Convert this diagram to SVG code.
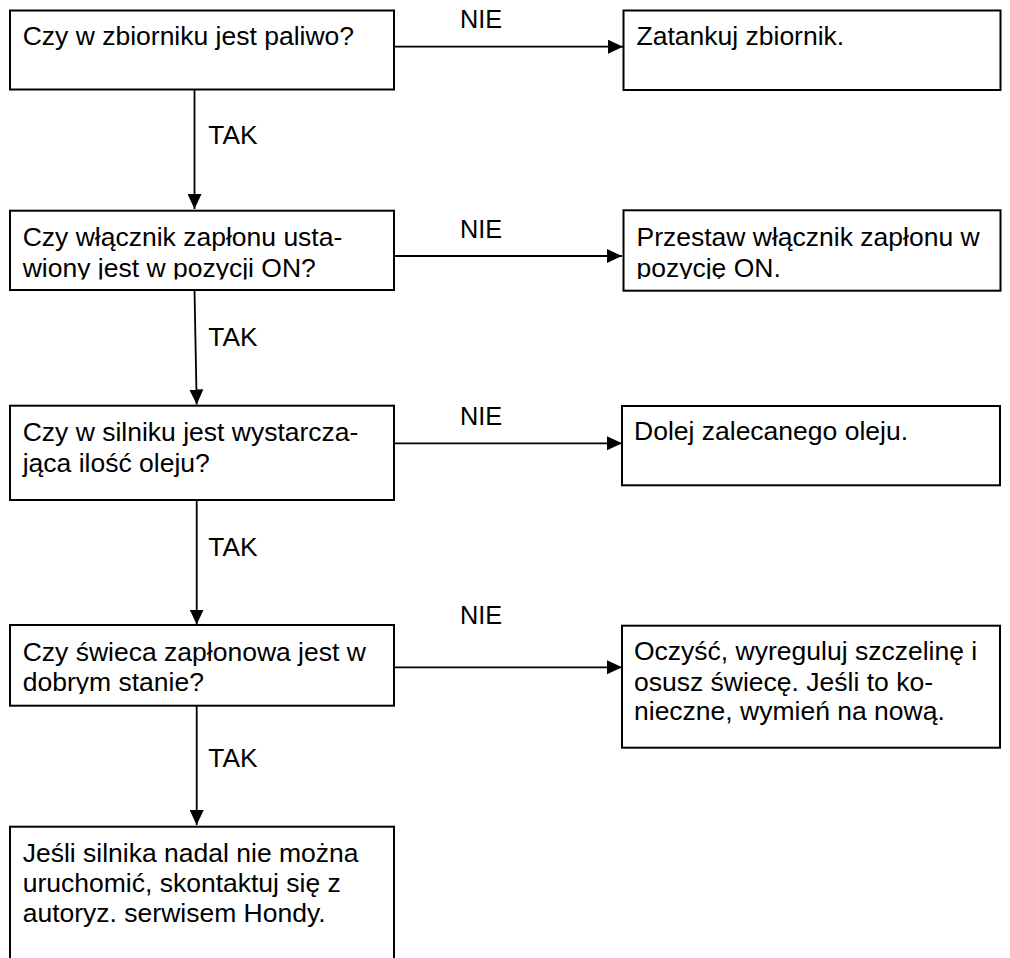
<svg xmlns="http://www.w3.org/2000/svg" width="1010" height="958" viewBox="0 0 1010 958">
  <style>
    .box { fill: #ffffff; stroke: #000000; stroke-width: 2; }
    .txt { font-family: "Liberation Sans", Arial, sans-serif; font-size: 26.5px; fill: #000000; }
    .lbl { font-family: "Liberation Sans", Arial, sans-serif; font-size: 25.3px; fill: #000000; }
    .tak { font-family: "Liberation Sans", Arial, sans-serif; font-size: 26.3px; fill: #000000; }
    .edge { fill: none; stroke: #000000; stroke-width: 1.8; }
  </style>
  <defs>
    <marker id="arrow" viewBox="0 0 15 14" refX="15" refY="7" markerWidth="15" markerHeight="14" markerUnits="userSpaceOnUse" orient="auto">
      <path d="M0,0 L15,7 L0,14 Z" fill="#000000"/>
    </marker>
    <!-- text areas end above the full descender of the last line -->
    <clipPath id="clip-q2"><rect x="10" y="211" width="384" height="68.5"/></clipPath>
    <clipPath id="clip-a2"><rect x="623" y="210" width="377" height="69"/></clipPath>
    <clipPath id="clip-q4"><rect x="10" y="625" width="384" height="69"/></clipPath>
  </defs>

  <rect width="1010" height="958" fill="#ffffff"/>

  <!-- connectors -->
  <g id="connectors">
    <line class="edge" x1="394" y1="46.7" x2="623" y2="46.7" marker-end="url(#arrow)"/>
    <line class="edge" x1="194.5" y1="90" x2="194.5" y2="209" marker-end="url(#arrow)"/>
    <line class="edge" x1="392" y1="256" x2="622" y2="256" marker-end="url(#arrow)"/>
    <line class="edge" x1="194.5" y1="290" x2="196.7" y2="404.5" marker-end="url(#arrow)"/>
    <line class="edge" x1="392" y1="443.3" x2="622" y2="443.3" marker-end="url(#arrow)"/>
    <line class="edge" x1="196.7" y1="500" x2="196.7" y2="624.5" marker-end="url(#arrow)"/>
    <line class="edge" x1="392" y1="667.3" x2="622" y2="667.3" marker-end="url(#arrow)"/>
    <line class="edge" x1="196.7" y1="706" x2="196.7" y2="825" marker-end="url(#arrow)"/>

    <text class="lbl" x="460" y="27.5">NIE</text>
    <text class="lbl" x="460" y="237.7">NIE</text>
    <text class="lbl" x="460" y="425">NIE</text>
    <text class="lbl" x="460" y="624.3">NIE</text>

    <text class="tak" x="208.3" y="144.3">TAK</text>
    <text class="tak" x="208.3" y="345.7">TAK</text>
    <text class="tak" x="208.3" y="556">TAK</text>
    <text class="tak" x="208.3" y="766.7">TAK</text>
  </g>

  <!-- question: fuel -->
  <g id="q-fuel">
    <rect class="box" x="10" y="10.5" width="384" height="79"/>
    <text class="txt" x="22.7" y="45">Czy w zbiorniku jest paliwo?</text>
  </g>
  <g id="a-fuel">
    <rect class="box" x="623.5" y="10.5" width="377" height="79.5"/>
    <text class="txt" x="636.5" y="45">Zatankuj zbiornik.</text>
  </g>

  <!-- question: ignition switch -->
  <g id="q-switch">
    <rect class="box" x="10" y="210.7" width="384" height="79.3"/>
    <g clip-path="url(#clip-q2)">
      <text class="txt" x="22.7" y="245.7">Czy włącznik zapłonu usta-</text>
      <text class="txt" x="22.7" y="276.7">wiony jest w pozycji ON?</text>
    </g>
  </g>
  <g id="a-switch">
    <rect class="box" x="623.5" y="210.3" width="377" height="80.4"/>
    <g clip-path="url(#clip-a2)">
      <text class="txt" x="636.5" y="246">Przestaw włącznik zapłonu w</text>
      <text class="txt" x="636.5" y="276.5">pozycję ON.</text>
    </g>
  </g>

  <!-- question: oil level -->
  <g id="q-oil">
    <rect class="box" x="10" y="405.7" width="384" height="94.3"/>
    <text class="txt" x="22.7" y="441">Czy w silniku jest wystarcza-</text>
    <text class="txt" x="22.7" y="471.7">jąca ilość oleju?</text>
  </g>
  <g id="a-oil">
    <rect class="box" x="622" y="406" width="378" height="79.3"/>
    <text class="txt" x="634" y="440">Dolej zalecanego oleju.</text>
  </g>

  <!-- question: spark plug -->
  <g id="q-plug">
    <rect class="box" x="10" y="625" width="384" height="80.7"/>
    <g clip-path="url(#clip-q4)">
      <text class="txt" x="22.7" y="660.7">Czy świeca zapłonowa jest w</text>
      <text class="txt" x="22.7" y="690.7">dobrym stanie?</text>
    </g>
  </g>
  <g id="a-plug">
    <rect class="box" x="622" y="625.7" width="378" height="122"/>
    <text class="txt" x="634" y="660">Oczyść, wyreguluj szczelinę i</text>
    <text class="txt" x="634" y="690.5">osusz świecę. Jeśli to ko-</text>
    <text class="txt" x="634" y="720">nieczne, wymień na nową.</text>
  </g>

  <!-- final step -->
  <g id="service">
    <rect class="box" x="10" y="826.7" width="384" height="150"/>
    <text class="txt" x="22.7" y="861.7">Jeśli silnika nadal nie można</text>
    <text class="txt" x="22.7" y="891.5">uruchomić, skontaktuj się z</text>
    <text class="txt" x="22.7" y="922">autoryz. serwisem Hondy.</text>
  </g>
</svg>
